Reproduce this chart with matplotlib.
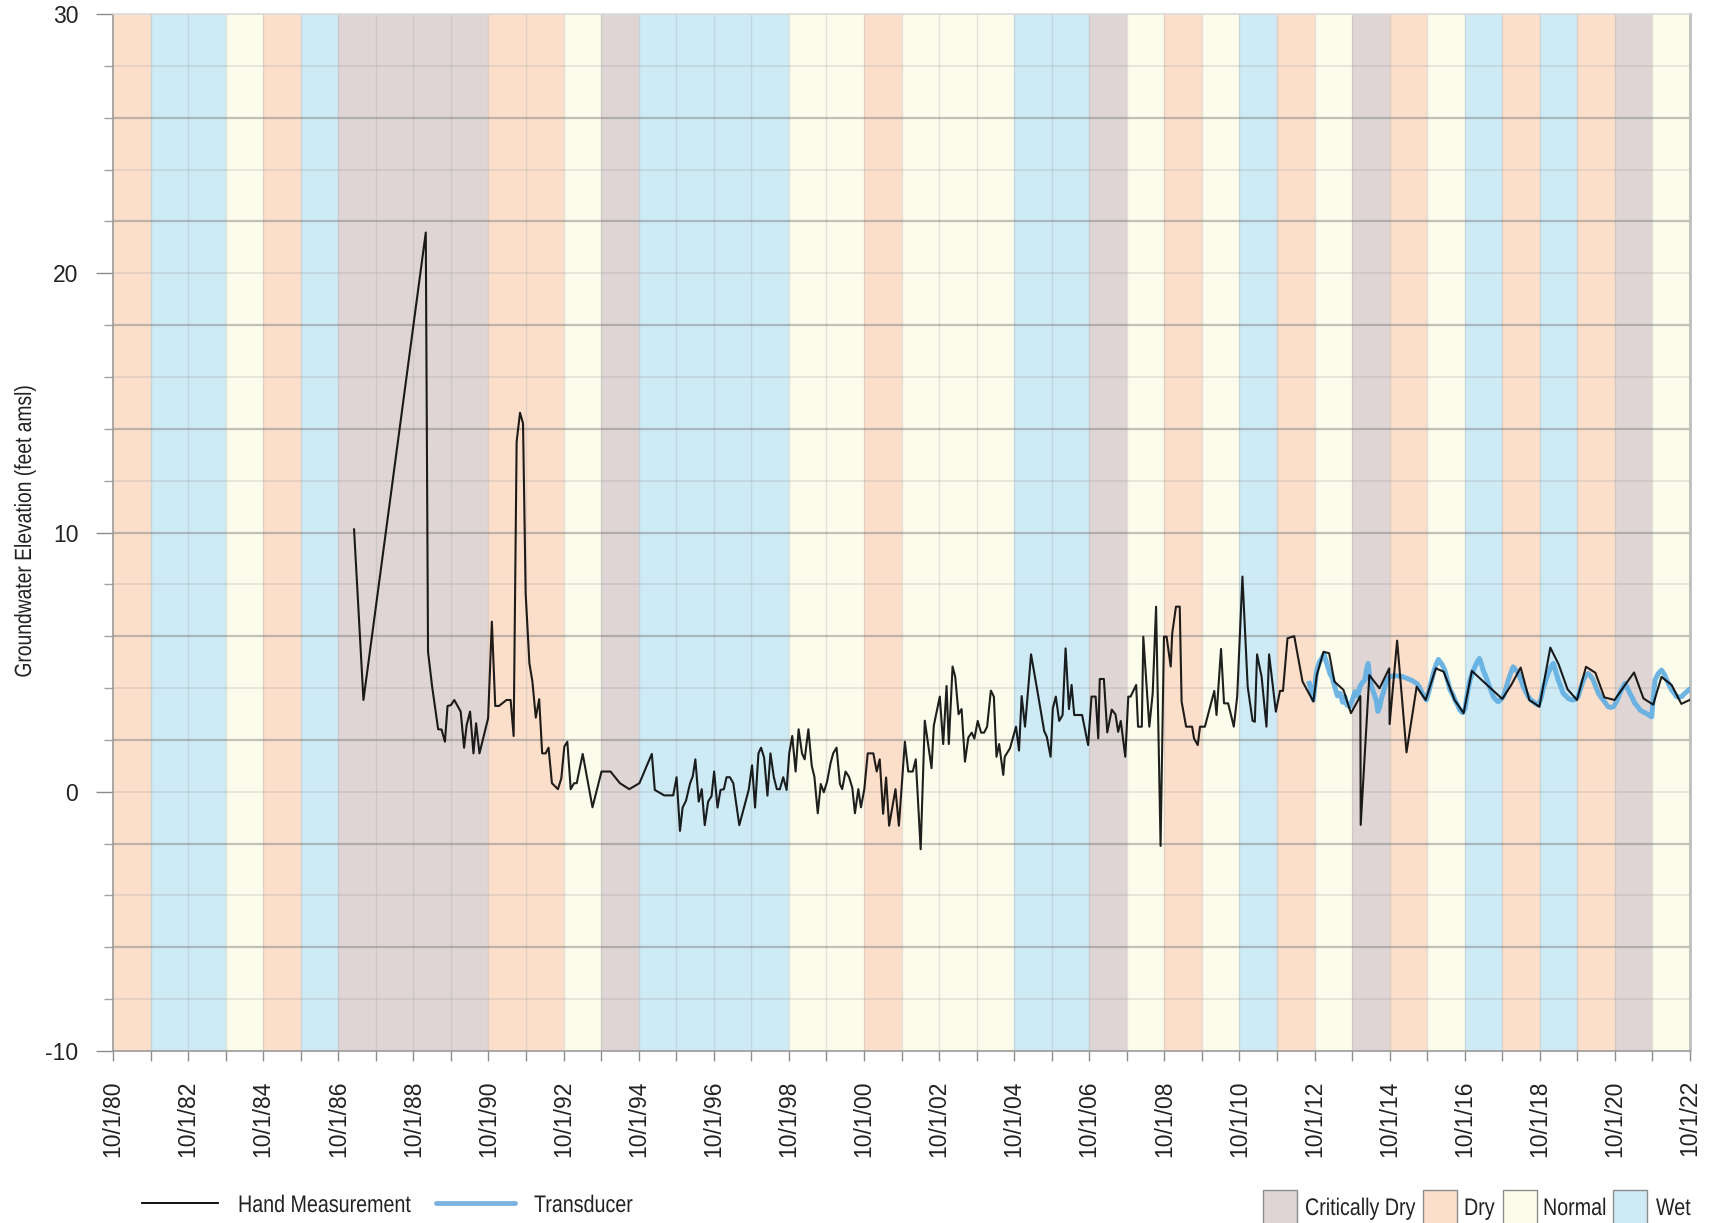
import matplotlib
matplotlib.use("Agg")
import matplotlib.pyplot as plt
from matplotlib.lines import Line2D
from matplotlib.patches import Rectangle, PathPatch
from matplotlib.textpath import TextPath
from matplotlib.font_manager import FontProperties
from matplotlib.transforms import Affine2D

plt.rcParams['font.family'] = ['Liberation Sans', 'DejaVu Sans']
plt.rcParams['axes.unicode_minus'] = False

W, H = 1709, 1223

# water year type, one entry per water year starting 10/1 of each year
wy_start = list(range(1980, 2022))
wy_type = ["D", "W", "W", "N", "D", "W", "C", "C", "C", "C",
           "D", "D", "N", "C", "W", "W", "W", "W", "N", "N",
           "D", "N", "N", "N", "W", "W", "C", "N", "D", "N",
           "W", "D", "N", "C", "D", "N", "W", "D", "W", "D",
           "C", "N"]
type_order = ["C", "D", "N", "W"]
type_names = {"C": "Critically Dry", "D": "Dry", "N": "Normal", "W": "Wet"}
type_colors = {"C": "#DFD5D5", "D": "#FBDFCB", "N": "#FCFCEC", "W": "#CDEAF5"}

# hand measurements (decimal year, feet amsl)
hand_t = [1987.17, 1987.42, 1989.08, 1989.14, 1989.25, 1989.41, 1989.50, 1989.59, 1989.66, 1989.75,
          1989.84, 1990.01, 1990.10, 1990.17, 1990.26, 1990.35, 1990.42, 1990.51, 1990.74, 1990.84,
          1990.93, 1991.03, 1991.23, 1991.34, 1991.42, 1991.50, 1991.59, 1991.67, 1991.74, 1991.84,
          1991.92, 1992.01, 1992.10, 1992.18, 1992.27, 1992.35, 1992.44, 1992.60, 1992.69, 1992.77,
          1992.85, 1992.94, 1993.03, 1993.10, 1993.26, 1993.52, 1993.76, 1994.00, 1994.25, 1994.50,
          1994.77, 1995.10, 1995.18, 1995.43, 1995.67, 1995.76, 1995.85, 1995.92, 1996.01, 1996.12,
          1996.19, 1996.26, 1996.35, 1996.43, 1996.51, 1996.60, 1996.69, 1996.76, 1996.85, 1996.93,
          1997.02, 1997.09, 1997.18, 1997.27, 1997.43, 1997.68, 1997.77, 1997.85, 1997.94, 1998.01,
          1998.09, 1998.18, 1998.26, 1998.35, 1998.43, 1998.51, 1998.60, 1998.69, 1998.76, 1998.84,
          1998.93, 1999.01, 1999.10, 1999.17, 1999.27, 1999.36, 1999.43, 1999.52, 1999.60, 1999.68,
          1999.77, 1999.86, 1999.93, 2000.02, 2000.11, 2000.17, 2000.26, 2000.35, 2000.44, 2000.51,
          2000.60, 2000.67, 2000.76, 2000.85, 2001.00, 2001.09, 2001.17, 2001.26, 2001.34, 2001.42,
          2001.59, 2001.68, 2001.84, 2001.93, 2002.05, 2002.13, 2002.26, 2002.37, 2002.55, 2002.61,
          2002.77, 2002.86, 2002.95, 2003.01, 2003.11, 2003.18, 2003.27, 2003.35, 2003.44, 2003.53,
          2003.62, 2003.69, 2003.78, 2003.87, 2003.95, 2004.03, 2004.13, 2004.21, 2004.28, 2004.35,
          2004.46, 2004.50, 2004.64, 2004.80, 2004.88, 2004.95, 2005.04, 2005.20, 2005.35, 2005.55,
          2005.62, 2005.72, 2005.78, 2005.86, 2005.95, 2006.04, 2006.12, 2006.21, 2006.28, 2006.35,
          2006.56, 2006.72, 2006.81, 2006.92, 2006.99, 2007.03, 2007.14, 2007.23, 2007.35, 2007.45,
          2007.52, 2007.59, 2007.71, 2007.79, 2007.85, 2008.00, 2008.05, 2008.15, 2008.19, 2008.35,
          2008.44, 2008.53, 2008.65, 2008.74, 2008.81, 2008.92, 2008.96, 2009.06, 2009.16, 2009.21,
          2009.33, 2009.49, 2009.54, 2009.64, 2009.70, 2009.83, 2010.08, 2010.14, 2010.26, 2010.34,
          2010.45, 2010.60, 2010.69, 2010.83, 2010.97, 2011.10, 2011.16, 2011.22, 2011.34, 2011.47,
          2011.54, 2011.72, 2011.83, 2011.91, 2012.03, 2012.21, 2012.43, 2012.72, 2012.81, 2012.99,
          2013.14, 2013.28, 2013.52, 2013.72, 2013.97, 2013.98, 2014.21, 2014.48, 2014.74, 2014.75,
          2014.95, 2015.20, 2015.47, 2015.71, 2015.98, 2016.19, 2016.48, 2016.72, 2016.94, 2017.75,
          2017.99, 2018.24, 2018.47, 2018.74, 2019.03, 2019.25, 2019.49, 2019.74, 2019.98, 2020.23,
          2020.47, 2020.74, 2021.02, 2021.26, 2021.51, 2021.77, 2021.99, 2022.26, 2022.52, 2022.74]
hand_v = [10.12, 3.54, 21.57, 5.40, 4.05, 2.41, 2.40, 1.93, 3.31, 3.34,
          3.54, 3.09, 1.70, 2.58, 3.09, 1.48, 2.64, 1.48, 2.83, 6.56,
          3.31, 3.31, 3.54, 3.54, 2.15, 13.50, 14.62, 14.21, 7.65, 4.95,
          4.25, 2.86, 3.57, 1.48, 1.48, 1.70, 0.33, 0.10, 0.52, 1.74,
          1.93, 0.10, 0.33, 0.33, 1.46, -0.60, 0.78, 0.78, 0.33, 0.10,
          0.33, 1.46, 0.07, -0.14, -0.14, 0.56, -1.51, -0.61, -0.35, 0.33,
          0.59, 1.25, -0.38, 0.10, -1.29, -0.38, -0.17, 0.78, -0.61, 0.07,
          0.10, 0.56, 0.56, 0.33, -1.29, 0.07, 1.02, -0.61, 1.48, 1.70,
          1.32, -0.15, 1.48, 0.56, 0.10, 0.10, 0.56, 0.07, 1.48, 2.15,
          0.78, 2.41, 1.48, 1.25, 2.41, 1.00, 0.58, -0.83, 0.30, -0.02,
          0.40, 1.10, 1.48, 1.70, 0.30, 0.10, 0.78, 0.58, 0.15, -0.83,
          0.10, -0.60, 0.10, 1.48, 1.48, 0.78, 1.25, -0.85, 0.55, -1.31,
          0.10, -1.31, 1.93, 0.78, 0.78, 1.25, -2.22, 2.74, 0.91, 2.55,
          3.67, 1.84, 4.08, 1.84, 4.83, 4.44, 2.99, 3.19, 1.16, 2.09,
          2.28, 2.05, 2.73, 2.28, 2.28, 2.51, 3.90, 3.67, 1.35, 1.84,
          0.65, 1.35, 1.68, 2.51, 1.59, 3.69, 2.51, 5.30, 4.05, 2.34,
          2.12, 1.35, 3.22, 3.67, 2.73, 2.96, 5.53, 3.19, 4.12, 2.96,
          2.96, 1.80, 3.67, 3.67, 2.06, 4.35, 4.35, 2.29, 3.17, 2.98,
          2.31, 2.73, 1.35, 3.67, 3.67, 4.12, 2.51, 2.51, 5.98, 2.51,
          3.80, 7.14, -2.09, 5.98, 5.98, 4.83, 6.11, 7.14, 7.14, 3.48,
          2.51, 2.51, 2.06, 1.80, 2.51, 2.51, 3.89, 2.96, 5.51, 3.41,
          3.41, 2.51, 3.67, 8.30, 4.05, 2.74, 2.70, 5.30, 4.44, 2.51,
          5.30, 3.09, 3.89, 3.89, 5.92, 6.00, 4.25, 3.48, 4.50, 5.40,
          5.34, 4.25, 3.93, 3.03, 3.69, -1.28, 4.50, 3.99, 4.76, 2.61,
          5.83, 1.52, 4.05, 3.54, 4.76, 4.63, 3.54, 3.03, 4.66, 3.58,
          4.12, 4.79, 3.54, 3.28, 5.56, 4.92, 3.95, 3.54, 4.82, 4.59,
          3.64, 3.54, 4.12, 4.60, 3.60, 3.36, 4.43, 4.12, 3.39, 3.54]

# transducer record (decimal year, feet amsl)
tr_t = [2012.61, 2012.66, 2012.72, 2012.76, 2012.81, 2012.88, 2012.94, 2013.00, 2013.05, 2013.16,
        2013.22, 2013.29, 2013.36, 2013.43, 2013.50, 2013.56, 2013.61, 2013.69, 2013.76, 2013.83,
        2013.90, 2013.96, 2014.02, 2014.09, 2014.14, 2014.18, 2014.22, 2014.27, 2014.33, 2014.39,
        2014.44, 2014.49, 2014.53, 2014.58, 2014.62, 2014.67, 2014.76, 2014.85, 2014.94, 2015.07,
        2015.20, 2015.33, 2015.47, 2015.54, 2015.60, 2015.66, 2015.73, 2015.80, 2015.87, 2015.94,
        2016.00, 2016.05, 2016.09, 2016.15, 2016.22, 2016.29, 2016.36, 2016.43, 2016.49, 2016.56,
        2016.62, 2016.69, 2016.76, 2016.82, 2016.89, 2016.96, 2017.02, 2017.08, 2017.14, 2017.19,
        2017.24, 2017.31, 2017.38, 2017.45, 2017.51, 2017.58, 2017.64, 2017.71, 2017.78, 2017.85,
        2017.91, 2017.98, 2018.04, 2018.11, 2018.18, 2018.25, 2018.31, 2018.38, 2018.44, 2018.51,
        2018.58, 2018.64, 2018.71, 2018.78, 2018.84, 2018.91, 2018.97, 2019.04, 2019.11, 2019.17,
        2019.24, 2019.31, 2019.37, 2019.44, 2019.51, 2019.58, 2019.64, 2019.71, 2019.77, 2019.84,
        2019.91, 2019.98, 2020.04, 2020.11, 2020.17, 2020.24, 2020.31, 2020.38, 2020.44, 2020.51,
        2020.57, 2020.64, 2020.71, 2020.80, 2020.88, 2020.95, 2021.02, 2021.08, 2021.15, 2021.22,
        2021.28, 2021.35, 2021.42, 2021.50, 2021.59, 2021.66, 2021.73, 2021.77, 2021.82, 2021.90,
        2021.99, 2022.06, 2022.13, 2022.20, 2022.26, 2022.33, 2022.39, 2022.46, 2022.53, 2022.60,
        2022.66, 2022.73, 2022.79]
tr_v = [4.18, 3.90, 3.54, 4.10, 4.69, 5.00, 5.14, 5.30, 5.08, 4.56,
        4.40, 4.05, 3.70, 3.80, 3.45, 3.67, 3.35, 3.28, 3.55, 3.86,
        3.70, 4.05, 4.20, 4.31, 4.75, 4.95, 4.40, 4.05, 3.80, 3.54,
        3.10, 3.28, 3.60, 3.80, 4.05, 4.31, 4.44, 4.47, 4.47, 4.45,
        4.38, 4.30, 4.18, 4.05, 3.86, 3.70, 3.54, 3.90, 4.31, 4.70,
        4.95, 5.10, 5.02, 4.90, 4.69, 4.30, 3.93, 3.75, 3.54, 3.35,
        3.15, 3.05, 3.21, 3.80, 4.31, 4.60, 4.82, 5.00, 5.14, 4.95,
        4.69, 4.45, 4.18, 3.90, 3.67, 3.55, 3.47, 3.55, 3.67, 4.00,
        4.31, 4.60, 4.82, 4.70, 4.56, 4.30, 4.05, 3.85, 3.67, 3.55,
        3.47, 3.40, 3.34, 3.60, 3.99, 4.30, 4.56, 4.80, 4.95, 4.65,
        4.31, 4.05, 3.80, 3.70, 3.60, 3.55, 3.54, 3.58, 3.67, 4.00,
        4.31, 4.50, 4.56, 4.45, 4.31, 4.05, 3.80, 3.65, 3.54, 3.40,
        3.28, 3.25, 3.28, 3.50, 3.80, 4.00, 4.18, 4.00, 3.80, 3.60,
        3.41, 3.30, 3.15, 3.08, 3.02, 2.95, 2.89, 3.60, 4.31, 4.55,
        4.69, 4.55, 4.31, 4.10, 3.93, 3.80, 3.67, 3.65, 3.67, 3.78,
        3.86, 3.95, 3.93]

fig = plt.figure(figsize=(W / 100, H / 100), dpi=100)
ax = fig.add_axes([113 / W, 1 - 1051 / H, (1690 - 113) / W, (1051 - 14) / H])

x0, x1 = 1980.75, 2022.75
for y, t in zip(wy_start, wy_type):
    ax.axvspan(y + 0.75, y + 1.75, color=type_colors[t], lw=0, zorder=0)

# gridlines: yearly verticals, horizontals every 2 ft (darker every 4 ft from -10)
for y in wy_start[1:]:
    ax.axvline(y + 0.75, color='#A8A8A8', alpha=0.3, lw=1, zorder=1)
for v in range(-8, 30, 2):
    if (v + 10) % 4 == 0:
        ax.axhline(v, color='#7A7A7A', alpha=0.45, lw=1.6, zorder=1)
    else:
        ax.axhline(v, color='#A0A0A0', alpha=0.3, lw=1.1, zorder=1)

ax.plot(tr_t, tr_v, color='#5FAEE3', lw=3.6, alpha=0.9, zorder=3, solid_joinstyle='round')
ax.plot(hand_t, hand_v, color='#000000', lw=1.5, alpha=0.88, zorder=4)

ax.set_xlim(x0, x1)
ax.set_ylim(-10, 30)

major = [x0 + 2 * k for k in range(22)]
ax.set_xticks(major)
ax.set_xticklabels(["10/1/%02d" % ((1980 + 2 * k) % 100) for k in range(22)], rotation=90)
ax.set_xticks([x0 + k for k in range(43)], minor=True)
ax.set_yticks([-10, 0, 10, 20, 30])
ax.set_yticks(list(range(-10, 31, 2)), minor=True)

ax.tick_params(axis='x', which='both', length=7, width=1, color='#8C8C8C', pad=14,
               labelsize=16.5, labelcolor='#222222')
ax.tick_params(axis='y', which='major', length=12, width=1, color='#8C8C8C', pad=13,
               labelsize=16.5, labelcolor='#222222')
ax.tick_params(axis='y', which='minor', length=6.5, width=1, color='#A0A0A0')

for s, c, w in [('left', '#9A9A9A', 1.2), ('bottom', '#9A9A9A', 1.2),
                ('right', '#BDBDBD', 2.0), ('top', '#DADADA', 1.2)]:
    ax.spines[s].set_color(c)
    ax.spines[s].set_linewidth(w)


def fx(px):
    return px / W


def fy(py):
    return 1 - py / H


# no condensed font is installed, so squeeze Liberation Sans horizontally
FP = FontProperties(family='Liberation Sans')


def narrow_text(s, x, y, size=24, sx=0.82, rot=0, center=False):
    p = TextPath((0, 0), s, size=size, prop=FP)
    w = p.get_extents().x1 * sx
    tr = Affine2D().scale(sx, 1)
    if center:
        tr = tr.translate(-w / 2, 0)
    tr = tr.rotate_deg(rot).translate(x, H - y).scale(1 / W, 1 / H)
    fig.add_artist(PathPatch(tr.transform_path(p), transform=fig.transFigure,
                             facecolor='#222222', lw=0))


narrow_text("Groundwater Elevation (feet amsl)", 31, 532, size=23.5, rot=90, center=True)

# series legend, bottom left
fig.add_artist(Line2D([fx(142), fx(218)], [fy(1203), fy(1203)], color='#000000', lw=1.3))
narrow_text("Hand Measurement", 238, 1212)
fig.add_artist(Line2D([fx(436), fx(515)], [fy(1203), fy(1203)], color='#7DB3E2', lw=3.5,
                      solid_capstyle='round'))
narrow_text("Transducer", 534, 1212)

# water year type legend, bottom right
patch_x = [1263, 1423, 1503, 1613]
text_x = [1305, 1464, 1543, 1656]
for t, px, tx in zip(type_order, patch_x, text_x):
    fig.add_artist(Rectangle((fx(px), fy(1232)), 34 / W, 42 / H, transform=fig.transFigure,
                             facecolor=type_colors[t], edgecolor='#8C8C8C', lw=1))
    narrow_text(type_names[t], tx, 1215)

fig.savefig("out.png", dpi=100)
